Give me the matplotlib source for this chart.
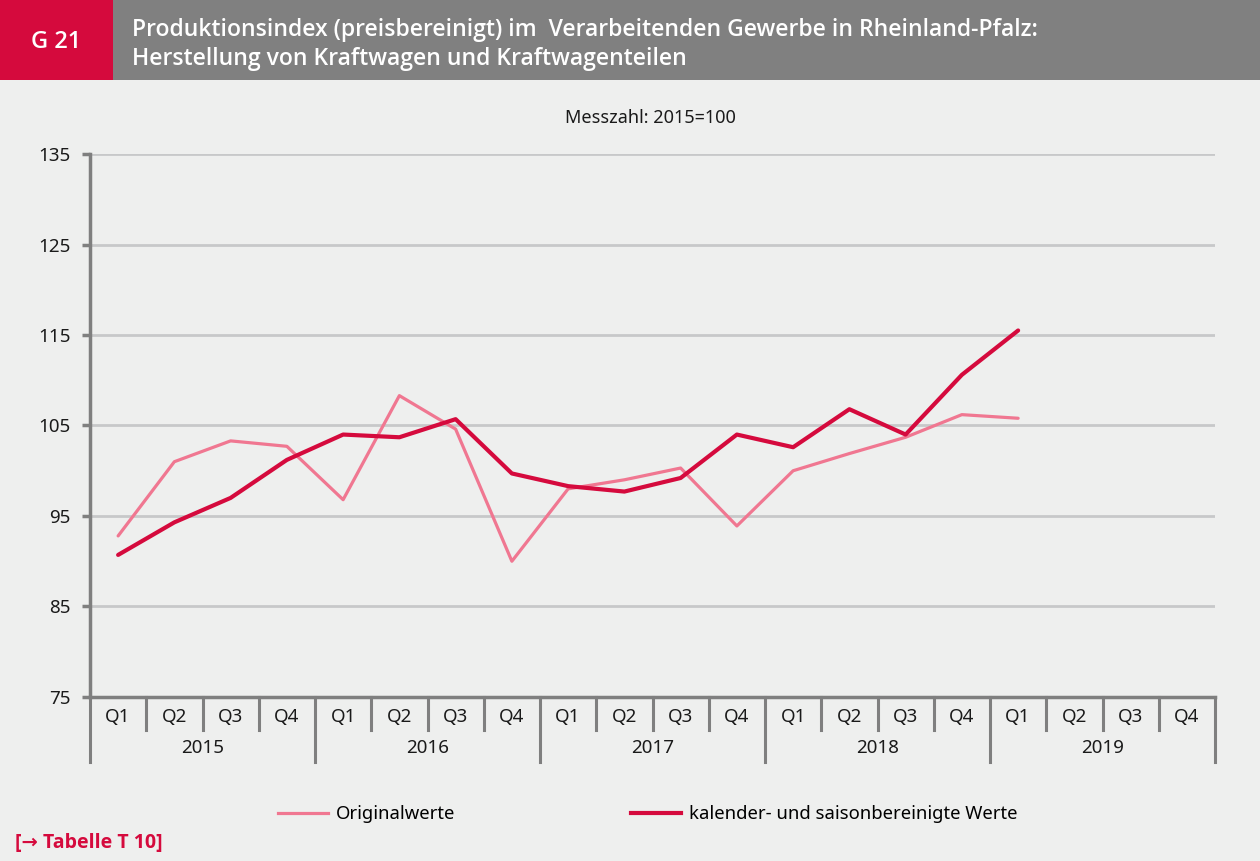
import matplotlib
matplotlib.use("Agg")
import matplotlib.pyplot as plt
from matplotlib.lines import Line2D
from matplotlib.transforms import blended_transform_factory

plt.rcParams["font.family"] = ["Noto Sans", "DejaVu Sans"]

# data (Messzahl 2015=100)
years = ["2015", "2016", "2017", "2018", "2019"]
quarters = ["Q1", "Q2", "Q3", "Q4"]
original = [92.8, 101.0, 103.3, 102.7,
            96.8, 108.3, 104.6, 90.0,
            98.0, 99.0, 100.3, 93.9,
            100.0, 101.9, 103.7, 106.2,
            105.8]
adjusted = [90.7, 94.3, 97.0, 101.2,
            104.0, 103.7, 105.7, 99.7,
            98.3, 97.7, 99.2, 104.0,
            102.6, 106.8, 104.0, 110.6,
            115.5]
yticks = [75, 85, 95, 105, 115, 125, 135]

bg = "#eeefee"
red = "#d50a3d"
pink = "#f07791"
axis_grey = "#7f7f7f"
grid_grey = "#c7c8c9"
bold_font = ["Open Sans", "DejaVu Sans"]

fig = plt.figure(figsize=(12.6, 8.61), dpi=100, facecolor=bg)

# header bar
fig.patches.append(plt.Rectangle((0, 1 - 80 / 861), 1, 80 / 861, transform=fig.transFigure,
                                 facecolor="#808080", edgecolor="none"))
fig.patches.append(plt.Rectangle((0, 1 - 80 / 861), 113 / 1260, 80 / 861, transform=fig.transFigure,
                                 facecolor=red, edgecolor="none"))
fig.text(56 / 1260, 1 - 42 / 861, "G 21", color="white", fontsize=17, ha="center", va="center",
         family=bold_font, fontweight="semibold")
fig.text(132 / 1260, 1 - 30 / 861,
         "Produktionsindex (preisbereinigt) im  Verarbeitenden Gewerbe in Rheinland-Pfalz:",
         color="white", fontsize=16.6, ha="left", va="center", family=bold_font, fontweight="semibold")
fig.text(132 / 1260, 1 - 59 / 861, "Herstellung von Kraftwagen und Kraftwagenteilen",
         color="white", fontsize=16.6, ha="left", va="center", family=bold_font, fontweight="semibold")

fig.text(650 / 1260, 1 - 118 / 861, "Messzahl: 2015=100", fontsize=13, ha="center", va="center",
         color="#1a1a1a")

ax = fig.add_axes([90 / 1260, 1 - 697 / 861, 1125 / 1260, 543 / 861])
ax.set_facecolor(bg)

n = len(years) * len(quarters)
x = list(range(len(original)))
ax.plot(x, original, color=pink, lw=2.3, solid_capstyle="round", zorder=3)
ax.plot(x, adjusted, color=red, lw=3.0, solid_capstyle="round", zorder=4)

ax.set_xlim(-0.5, n - 0.5)
ax.set_ylim(75, 135)
ax.set_yticks(yticks)
ax.set_yticklabels([str(v) for v in yticks], fontsize=13.5, color="#1a1a1a")
ax.yaxis.grid(True, color=grid_grey, lw=2)
ax.set_axisbelow(True)
ax.tick_params(axis="y", length=6, width=2.5, color=axis_grey, pad=8)
ax.set_xticks([])

for side in ["top", "right"]:
    ax.spines[side].set_visible(False)
for side in ["left", "bottom"]:
    ax.spines[side].set_color(axis_grey)
    ax.spines[side].set_linewidth(2.5)

# category axis: quarters and years
trans = blended_transform_factory(ax.transData, ax.transAxes)
q_len = 33 / 543
y_len = 65 / 543
for i in range(n + 1):
    length = y_len if i % 4 == 0 else q_len
    ax.add_line(Line2D([i - 0.5, i - 0.5], [0, -length], transform=trans, color=axis_grey,
                       lw=2.2, clip_on=False))
for i in range(n):
    ax.text(i, -20 / 543, quarters[i % 4], transform=trans, ha="center", va="center",
            fontsize=13.5, color="#1a1a1a")
for j, yr in enumerate(years):
    ax.text(j * 4 + 1.5, -51 / 543, yr, transform=trans, ha="center", va="center",
            fontsize=13.5, color="#1a1a1a")

handles = [Line2D([], [], color=pink, lw=2.3), Line2D([], [], color=red, lw=3.0)]
fig.legend(handles, ["Originalwerte", "kalender- und saisonbereinigte Werte"],
           loc="center", bbox_to_anchor=(648 / 1260, 1 - 814 / 861), ncol=2, frameon=False,
           fontsize=13.3, handlelength=2.7, handletextpad=0.45, columnspacing=9.5)

fig.text(15 / 1260, 1 - 843 / 861, "[\u2192 Tabelle T 10]", color=red, fontsize=14,
         family=bold_font, fontweight="bold", ha="left", va="center")

fig.savefig("out.png", dpi=100, facecolor=bg)
